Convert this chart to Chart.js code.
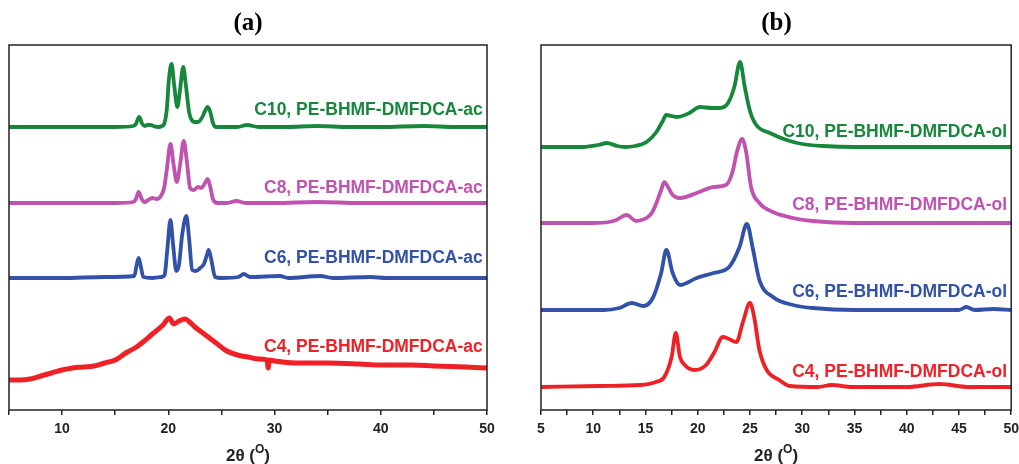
<!DOCTYPE html>
<html>
<head>
<meta charset="utf-8">
<script src="https://cdn.jsdelivr.net/npm/chart.js@4.4.0/dist/chart.umd.min.js"></script>
<style>
html, body { margin: 0; padding: 0; background: #fff; width: 1019px; height: 464px; overflow: hidden; }
#chartA { position: absolute; left: 0; top: 0; }
#chartB { position: absolute; left: 515px; top: 0; }
</style>
</head>
<body>
<canvas id="chartA" width="515" height="464"></canvas>
<canvas id="chartB" width="510" height="464"></canvas>
<script>
// panel (a): as-cast samples, 2theta vs offset intensity
const aX_C10 = [5, 8, 12, 15, 16.7, 16.95, 17.25, 17.55, 17.8, 18.0, 18.3, 18.6, 19.0, 19.4, 19.6, 19.85, 20.05, 20.3, 20.55, 20.85, 21.1, 21.4, 21.65, 21.95, 22.2, 22.5, 22.8, 23.2, 23.45, 23.7, 23.95, 24.2, 24.5, 25.0, 26.5, 27.4, 28.5, 31, 34, 37, 40, 44, 47, 50];
const aY_C10 = [283, 283, 283, 283, 284, 286, 293, 286, 284, 285, 285, 284, 283, 284, 286, 300, 330, 346, 325, 303, 320, 343, 325, 298, 290, 288, 288, 293, 299, 303, 298, 287, 283, 283, 283, 285, 283, 283, 284, 283, 283, 284, 283, 283];

const aX_C8 = [5, 10, 15, 16.7, 16.95, 17.2, 17.5, 17.75, 18.1, 18.5, 18.9, 19.3, 19.6, 19.85, 20.2, 20.5, 20.8, 21.1, 21.45, 21.75, 22.05, 22.4, 22.8, 23.1, 23.4, 23.7, 23.95, 24.2, 24.6, 25.5, 26.4, 27.3, 30, 34, 38, 42, 46, 50];
const aY_C8 = [207, 207, 207, 208, 211, 218, 211, 208, 210, 212, 211, 214, 222, 240, 266, 245, 228, 245, 269, 248, 222, 220, 223, 222, 226, 231, 223, 211, 207, 207, 209, 207, 207, 208, 207, 207, 207, 207];

const aX_C6 = [5, 10, 14, 16.8, 17.0, 17.2, 17.4, 17.65, 18.5, 19.4, 19.65, 19.9, 20.2, 20.45, 20.75, 21.0, 21.3, 21.7, 21.95, 22.25, 22.6, 23.0, 23.35, 23.6, 23.8, 24.05, 24.4, 25, 26.6, 27.1, 27.7, 30.5, 31.3, 34.3, 35.5, 39, 40.5, 45, 50];
const aY_C6 = [132, 132, 133, 134, 144, 152, 144, 133, 132, 133, 135, 160, 190, 165, 139, 145, 175, 194, 172, 140, 139, 142, 146, 154, 160, 150, 133, 132, 133, 136, 133, 134, 132, 134, 132, 133, 132, 132, 132];

const aX_C4 = [5, 6, 7, 8, 9, 10, 11, 12, 13, 14, 15, 16, 17, 17.5, 18.5, 19.5, 20.1, 20.5, 21, 21.6, 22, 22.5, 23, 23.5, 24.5, 25.5, 26.5, 27.5, 28.5, 29.3, 29.4, 29.5, 30, 32, 35, 38, 40, 43, 45, 48, 50];
const aY_C4 = [30, 30, 31, 34, 37, 40, 42, 43, 44, 47, 50, 57, 63, 67, 76, 85, 92, 86, 89, 91, 88, 83, 79, 75, 67, 59, 55, 53, 51, 50, 42, 50, 49, 47, 47, 46, 45, 45, 44, 43, 42];

// panel (b): oligomer samples
const bX_C10 = [5, 9, 10.5, 11.3, 12.3, 13, 14, 15.1, 16.05, 16.6, 17.0, 17.5, 18.0, 19.2, 20.2, 21.4, 22.1, 22.9, 23.5, 24.05, 24.5, 25.0, 25.6, 26.9, 28.5, 30.0, 32, 35, 40, 45, 50];
const bY_C10 = [263, 263, 265, 267, 264, 263, 264, 268, 278, 288, 295, 294, 293, 297, 303, 302, 302, 307, 323, 348, 323, 299, 285, 277, 270, 266, 264, 263, 263, 263, 263];

const bX_C8 = [5, 10, 11.5, 12.2, 13.2, 14.1, 14.6, 15.1, 15.6, 16.05, 16.5, 16.8, 17.1, 17.6, 18.3, 19.9, 21.5, 22.7, 23.3, 23.8, 24.25, 24.65, 25.1, 25.9, 27.2, 29.1, 31, 35, 40, 45, 50];
const bY_C8 = [187, 187, 188, 190, 195, 189, 190, 192, 197, 207, 220, 228, 224, 215, 212, 217, 223, 225, 237, 260, 271, 257, 223, 207, 198, 192, 189, 187, 187, 187, 187];

const bX_C6 = [5, 11, 12.5, 13.7, 14.8, 15.7, 16.5, 17.0, 17.6, 18.3, 19.9, 21.5, 23.0, 24.0, 24.7, 25.3, 25.9, 27.2, 29.1, 31, 35, 40, 45, 45.7, 46.5, 48.3, 50];
const bY_C6 = [100, 100, 102, 107, 104, 112, 137, 160, 137, 125, 132, 137, 143, 163, 186, 160, 130, 113, 105, 102, 100, 100, 100, 103, 100, 101, 100];

const bX_C4 = [5, 10.6, 14.5, 16.0, 16.8, 17.5, 17.9, 18.3, 18.75, 19.7, 20.8, 21.6, 22.4, 23.0, 23.7, 24.3, 25.0, 25.4, 25.9, 26.6, 27.8, 28.8, 31.5, 32.8, 34.8, 40, 43.1, 46, 50];
const bY_C4 = [23, 24, 25, 28, 33, 53, 77, 53, 45, 40, 45, 58, 73, 71, 68, 87, 107, 93, 60, 40, 30, 24, 23, 25, 23, 23, 26, 23, 23];

const seriesNamesA = ['C10, PE-BHMF-DMFDCA-ac', 'C8, PE-BHMF-DMFDCA-ac', 'C6, PE-BHMF-DMFDCA-ac', 'C4, PE-BHMF-DMFDCA-ac'];
const seriesNamesB = ['C10, PE-BHMF-DMFDCA-ol', 'C8, PE-BHMF-DMFDCA-ol', 'C6, PE-BHMF-DMFDCA-ol', 'C4, PE-BHMF-DMFDCA-ol'];

const colors = ['#17873c', '#c052b0', '#3152a8', '#ee2226'];

function points(xs, ys) {
    return xs.map((x, i) => ({ x: x, y: ys[i] }));
}

function makeDataset(label, xs, ys, color, width) {
    return {
        label: label,
        data: points(xs, ys),
        borderColor: color,
        borderWidth: width,
        pointRadius: 0,
        cubicInterpolationMode: 'monotone',
        fill: false
    };
}

// box around the plot, the curve names and the 2θ axis title
const decorPlugin = {
    id: 'decor',
    afterDatasetsDraw(chart, args, opts) {
        const ctx = chart.ctx;
        const area = chart.chartArea;
        const xs = chart.scales.x;
        const ys = chart.scales.y;
        ctx.save();

        ctx.strokeStyle = '#222';
        ctx.lineWidth = 1.5;
        ctx.strokeRect(area.left, area.top, area.right - area.left, area.bottom - area.top);

        ctx.font = 'bold 17.5px "Liberation Sans", Arial, sans-serif';
        ctx.textAlign = 'right';
        ctx.textBaseline = 'middle';
        opts.names.forEach((name, i) => {
            ctx.fillStyle = colors[i];
            ctx.fillText(name, xs.getPixelForValue(opts.labelX), ys.getPixelForValue(opts.labelY[i]));
        });

        // axis title with a raised O for degrees
        const mid = (area.left + area.right) / 2;
        const base = 461;
        ctx.fillStyle = '#222';
        ctx.textAlign = 'left';
        ctx.textBaseline = 'alphabetic';
        ctx.font = 'bold 17px "Liberation Sans", Arial, sans-serif';
        const w1 = ctx.measureText('2θ (').width;
        const w3 = ctx.measureText(')').width;
        ctx.font = 'bold 12px "Liberation Sans", Arial, sans-serif';
        const w2 = ctx.measureText('O').width;
        let x0 = mid - (w1 + w2 + w3) / 2;
        ctx.font = 'bold 17px "Liberation Sans", Arial, sans-serif';
        ctx.fillText('2θ (', x0, base);
        ctx.font = 'bold 12px "Liberation Sans", Arial, sans-serif';
        ctx.fillText('O', x0 + w1, base - 8);
        ctx.font = 'bold 17px "Liberation Sans", Arial, sans-serif';
        ctx.fillText(')', x0 + w1 + w2, base);
        ctx.restore();
    }
};

function makeOptions(title, step, labelEvery, padding, decor) {
    return {
        responsive: false,
        animation: false,
        layout: { padding: padding },
        plugins: {
            legend: { display: false },
            tooltip: { enabled: false },
            title: {
                display: true,
                text: title,
                color: '#000',
                font: { family: '"Liberation Serif", "Times New Roman", serif', size: 25, weight: 'bold' },
                padding: { top: 9, bottom: 6 }
            },
            decor: decor
        },
        scales: {
            x: {
                type: 'linear',
                min: 5,
                max: 50,
                grid: { drawOnChartArea: false, drawTicks: true, tickLength: 5, color: '#222', lineWidth: 1.5 },
                border: { display: false },
                ticks: {
                    stepSize: step,
                    autoSkip: false,
                    maxRotation: 0,
                    padding: 6,
                    color: '#222',
                    font: { family: '"Liberation Sans", Arial, sans-serif', size: 14, weight: 'bold' },
                    callback: v => (v % labelEvery === 0 ? v : '')
                },
                afterFit: axis => { axis.height = 26; }
            },
            y: {
                display: false,
                min: 0,
                max: 365
            }
        }
    };
}

new Chart(document.getElementById('chartA').getContext('2d'), {
    type: 'line',
    data: {
        datasets: [
            makeDataset(seriesNamesA[0], aX_C10, aY_C10, colors[0], 3.8),
            makeDataset(seriesNamesA[1], aX_C8, aY_C8, colors[1], 3.8),
            makeDataset(seriesNamesA[2], aX_C6, aY_C6, colors[2], 3.8),
            makeDataset(seriesNamesA[3], aX_C4, aY_C4, colors[3], 5)
        ]
    },
    options: makeOptions('(a)', 5, 10, { left: 9, right: 28, top: 0, bottom: 28 },
        { names: seriesNamesA, labelX: 49.6, labelY: [300, 222, 152, 63] }),
    plugins: [decorPlugin]
});

new Chart(document.getElementById('chartB').getContext('2d'), {
    type: 'line',
    data: {
        datasets: [
            makeDataset(seriesNamesB[0], bX_C10, bY_C10, colors[0], 3.8),
            makeDataset(seriesNamesB[1], bX_C8, bY_C8, colors[1], 3.8),
            makeDataset(seriesNamesB[2], bX_C6, bY_C6, colors[2], 3.8),
            makeDataset(seriesNamesB[3], bX_C4, bY_C4, colors[3], 3.8)
        ]
    },
    options: makeOptions('(b)', 2.5, 5, { left: 26, right: 13, top: 0, bottom: 28 },
        { names: seriesNamesB, labelX: 49.6, labelY: [278, 205, 118, 38] }),
    plugins: [decorPlugin]
});
</script>
</body>
</html>
